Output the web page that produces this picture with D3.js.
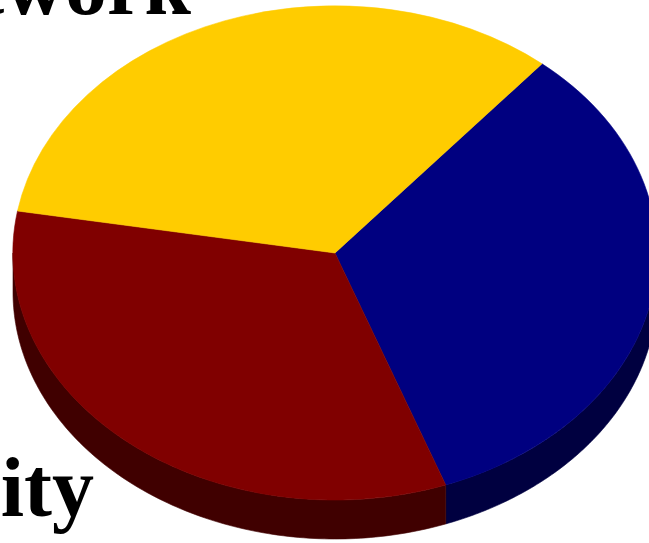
<!DOCTYPE html>
<html>
<head>
<meta charset="utf-8">
<script src="https://cdn.jsdelivr.net/npm/d3@7"></script>
<style>
  html, body { margin: 0; padding: 0; background: #ffffff; overflow: hidden; }
  svg { display: block; }
</style>
</head>
<body>
<div id="chart"></div>
<script>
// ---- data ----
const categories = ["Systems", "Security", "Network"];
const values = [33.3, 33.3, 33.4];
const topColors = ["#000080", "#800000", "#FFCC00"];
const sideColors = ["#000040", "#400000", "#805f00"];
const showLabel = [false, true, true];

// ---- layout ----
const W = 649, H = 543;
const cx = 335, cy = 253, rx = 322, ry = 247, depth = 39;
const startDeg = 40;
const labelPos = { "Network": [191, 14], "Security": [94, 516] };

const svg = d3.select("#chart").append("svg")
  .attr("width", W).attr("height", H);

const pie = d3.pie().sort(null)
  .startAngle(startDeg * Math.PI / 180)
  .endAngle(startDeg * Math.PI / 180 + 2 * Math.PI);
const arcs = pie(values.map((v, i) => ({ v, i }))).map((d, i) => {
  d.value = values[i];
  return d;
});
// recompute with values
const slices = d3.pie().sort(null)
  .startAngle(startDeg * Math.PI / 180)
  .endAngle(startDeg * Math.PI / 180 + 2 * Math.PI)(values);

const line = d3.line();
// screen angle theta: measured from +x, clockwise (y down). theta = a - PI/2
function ept(theta, dy) {
  return [cx + rx * Math.cos(theta), cy + ry * Math.sin(theta) + (dy || 0)];
}

// sides (front half only: theta in [0, PI])
const sides = svg.append("g");
slices.forEach((s, i) => {
  let t1 = s.startAngle - Math.PI / 2;
  let t2 = s.endAngle - Math.PI / 2;
  // normalise into a window where the front half is [0, PI]
  const ranges = [];
  for (const off of [-2 * Math.PI, 0, 2 * Math.PI]) {
    const a = Math.max(t1 + off, 0), b = Math.min(t2 + off, Math.PI);
    if (b > a) ranges.push([a, b]);
  }
  ranges.forEach(([a, b]) => {
    const n = 120;
    const top = d3.range(n + 1).map(k => ept(a + (b - a) * k / n, 0));
    const bot = d3.range(n + 1).map(k => ept(b - (b - a) * k / n, depth));
    sides.append("path")
      .attr("d", line(top.concat(bot)) + "Z")
      .attr("fill", sideColors[i])
      .attr("stroke", sideColors[i])
      .attr("stroke-width", 0.6);
  });
});

// top faces
const arc = d3.arc().innerRadius(0).outerRadius(1);
const tops = svg.append("g")
  .attr("transform", `translate(${cx},${cy}) scale(${rx},${ry})`);
tops.selectAll("path").data(slices).join("path")
  .attr("d", arc)
  .attr("fill", (d, i) => topColors[i])
  .attr("stroke", (d, i) => topColors[i])
  .attr("stroke-width", 0.002);

// labels
categories.forEach((c, i) => {
  if (!showLabel[i]) return;
  const p = labelPos[c];
  svg.append("text")
    .attr("x", p[0]).attr("y", p[1])
    .attr("text-anchor", "end")
    .attr("font-family", "'Liberation Serif', 'Times New Roman', serif")
    .attr("font-weight", "bold")
    .attr("font-size", 84)
    .attr("fill", "#000")
    .text(c);
});
</script>
</body>
</html>
